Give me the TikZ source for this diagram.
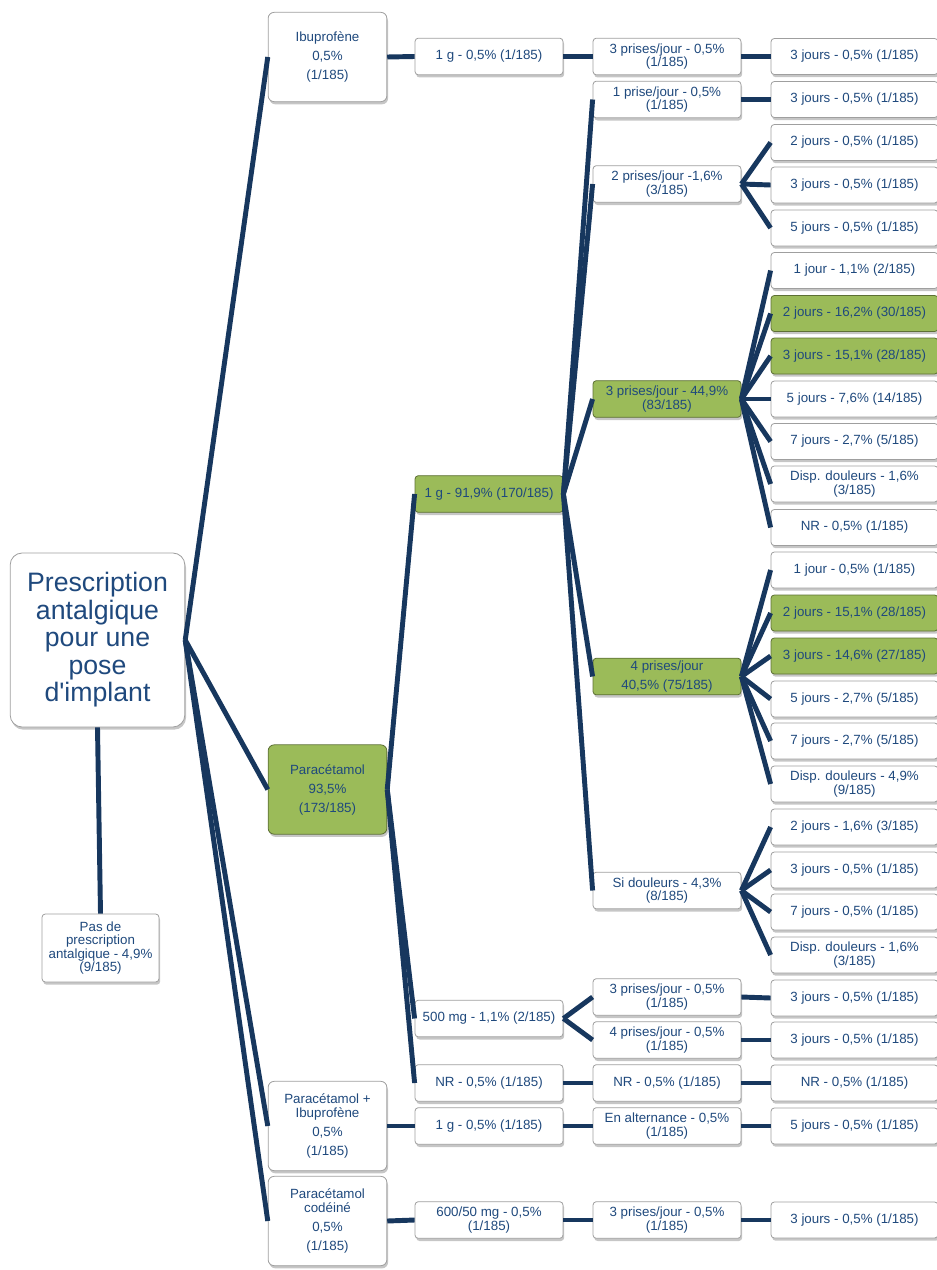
\documentclass[tikz,border=0pt]{standalone}
\usepackage{fontspec}
\setmainfont{Liberation Sans}[Ligatures=TeXOff]
\usetikzlibrary{shadows}
\definecolor{navy}{RGB}{23,55,94}
\definecolor{txtblue}{RGB}{31,73,125}
\definecolor{leafgreen}{RGB}{155,187,89}
\tikzset{
  box/.style={draw=gray!75,line width=0.6pt,fill=white,rounded corners=2.5pt,text=txtblue,align=center,inner sep=1pt,
    font=\fontsize{10}{10}\selectfont,
    drop shadow={shadow xshift=0.9pt,shadow yshift=-2pt,opacity=0.45}},
  cell/.style={box,minimum width=111pt,minimum height=27.5pt},
  tail/.style={box,minimum width=125.25pt,minimum height=27pt},
  drug/.style={box,rounded corners=4.5pt,minimum width=89pt,minimum height=67pt},
  hot/.style={fill=leafgreen,draw=leafgreen!60!black},
  link/.style={draw=navy,line width=3.7pt},
}
\begin{document}
\begin{tikzpicture}[x=0.75pt,y=0.75pt,yscale=-1,xscale=1]
\useasboundingbox (0,0) rectangle (937,1270);

% Text Node
\node[box,rounded corners=9pt,minimum width=131pt,minimum height=130.5pt,font=\fontsize{20}{20.6}\selectfont] (root) at (97.5,640) {Prescription\\antalgique\\pour une\\pose\\d'implant};
% Text Node
\node[box,minimum width=87.75pt,minimum height=51pt] (none) at (100.5,948) {Pas de\\prescription\\antalgique - 4,9\%\\(9/185)};

% Text Node
\node[drug] (ibu) at (327.5,57) {Ibuprofène\\[4.25pt]0,5\%\\[4.25pt](1/185)};
% Text Node
\node[drug,hot] (para) at (327.5,789.5) {Paracétamol\\[4.25pt]93,5\%\\[4.25pt](173/185)};
% Text Node
\node[drug] (parIbu) at (327.5,1126) {Paracétamol +\\Ibuprofène\\[4.25pt]0,5\%\\[4.25pt](1/185)};
% Text Node
\node[drug] (parCod) at (327.5,1221) {Paracétamol\\codéiné\\[4.25pt]0,5\%\\[4.25pt](1/185)};

% Text Node
\node[cell] (ibuDose) at (489,56.5) {1 g - 0,5\% (1/185)};
\node[cell,hot] (paraG) at (489,494) {1 g - 91,9\% (170/185)};
\node[cell] (paraMg) at (489,1018.5) {500 mg - 1,1\% (2/185)};
\node[cell] (paraNR) at (489,1083) {NR - 0,5\% (1/185)};
\node[cell] (piDose) at (489,1126) {1 g - 0,5\% (1/185)};
\node[cell] (pcDose) at (489,1220) {600/50 mg - 0,5\%\\(1/185)};

% Text Node
\node[cell] (ibuFreq) at (667,56.5) {3 prises/jour - 0,5\%\\(1/185)};
\node[cell] (gF1) at (667,99.5) {1 prise/jour - 0,5\%\\(1/185)};
\node[cell] (gF2) at (667,184) {2 prises/jour -1,6\%\\(3/185)};
\node[cell,hot] (gF3) at (667,399) {3 prises/jour - 44,9\%\\(83/185)};
\node[cell,hot] (gF4) at (667,676.5) {4 prises/jour\\[4.25pt]40,5\% (75/185)};
\node[cell] (gSi) at (667,890.5) {Si douleurs - 4,3\%\\(8/185)};
\node[cell] (mgF3) at (667,997) {3 prises/jour - 0,5\%\\(1/185)};
\node[cell] (mgF4) at (667,1040) {4 prises/jour - 0,5\%\\(1/185)};
\node[cell] (nrF) at (667,1083) {NR - 0,5\% (1/185)};
\node[cell] (piF) at (667,1126) {En alternance - 0,5\%\\(1/185)};
\node[cell] (pcF) at (667,1220) {3 prises/jour - 0,5\%\\(1/185)};

% Text Node
\node[tail] (d0) at (854.5,56.5) {3 jours - 0,5\% (1/185)};
\node[tail] (d1) at (854.5,99.5) {3 jours - 0,5\% (1/185)};
\node[tail] (d2) at (854.5,142.5) {2 jours - 0,5\% (1/185)};
\node[tail] (d3) at (854.5,185) {3 jours - 0,5\% (1/185)};
\node[tail] (d4) at (854.5,228) {5 jours - 0,5\% (1/185)};
\node[tail] (d5) at (854.5,270.5) {1 jour - 1,1\% (2/185)};
\node[tail,hot] (d6) at (854.5,313.5) {2 jours - 16,2\% (30/185)};
\node[tail,hot] (d7) at (854.5,356) {3 jours - 15,1\% (28/185)};
\node[tail] (d8) at (854.5,399) {5 jours - 7,6\% (14/185)};
\node[tail] (d9) at (854.5,441.5) {7 jours - 2,7\% (5/185)};
\node[tail] (d10) at (854.5,484) {Disp. douleurs - 1,6\%\\(3/185)};
\node[tail] (d11) at (854.5,527.5) {NR - 0,5\% (1/185)};
\node[tail] (d12) at (854.5,570) {1 jour - 0,5\% (1/185)};
\node[tail,hot] (d13) at (854.5,613) {2 jours - 15,1\% (28/185)};
\node[tail,hot] (d14) at (854.5,656) {3 jours - 14,6\% (27/185)};
\node[tail] (d15) at (854.5,699) {5 jours - 2,7\% (5/185)};
\node[tail] (d16) at (854.5,741) {7 jours - 2,7\% (5/185)};
\node[tail] (d17) at (854.5,784) {Disp. douleurs - 4,9\%\\(9/185)};
\node[tail] (d18) at (854.5,827) {2 jours - 1,6\% (3/185)};
\node[tail] (d19) at (854.5,870) {3 jours - 0,5\% (1/185)};
\node[tail] (d20) at (854.5,912) {7 jours - 0,5\% (1/185)};
\node[tail] (d21) at (854.5,955) {Disp. douleurs - 1,6\%\\(3/185)};
\node[tail] (d22) at (854.5,998) {3 jours - 0,5\% (1/185)};
\node[tail] (d23) at (854.5,1040) {3 jours - 0,5\% (1/185)};
\node[tail] (d24) at (854.5,1083) {NR - 0,5\% (1/185)};
\node[tail] (d25) at (854.5,1126) {5 jours - 0,5\% (1/185)};
\node[tail] (d26) at (854.5,1220) {3 jours - 0,5\% (1/185)};

%Straight Lines
\draw[link] (root.south) -- (none.north);
\draw[link] (root.east) -- (ibu.west);
\draw[link] (root.east) -- (para.west);
\draw[link] (root.east) -- (parIbu.west);
\draw[link] (root.east) -- (parCod.west);

%Straight Lines
\draw[link] (ibu.east) -- (ibuDose.west);
\draw[link] (ibuDose.east) -- (ibuFreq.west);
\draw[link] (ibuFreq.east) -- (d0.west);

%Straight Lines
\draw[link] (para.east) -- (paraG.west);
\draw[link] (para.east) -- (paraMg.west);
\draw[link] (para.east) -- (paraNR.west);
\draw[link] (paraG.east) -- (gF1.west);
\draw[link] (paraG.east) -- (gF2.west);
\draw[link] (paraG.east) -- (gF3.west);
\draw[link] (paraG.east) -- (gF4.west);
\draw[link] (paraG.east) -- (gSi.west);
\draw[link] (gF1.east) -- (d1.west);
\draw[link] (gF2.east) -- (d2.west);
\draw[link] (gF2.east) -- (d3.west);
\draw[link] (gF2.east) -- (d4.west);
\draw[link] (gF3.east) -- (d5.west);
\draw[link] (gF3.east) -- (d6.west);
\draw[link] (gF3.east) -- (d7.west);
\draw[link] (gF3.east) -- (d8.west);
\draw[link] (gF3.east) -- (d9.west);
\draw[link] (gF3.east) -- (d10.west);
\draw[link] (gF3.east) -- (d11.west);
\draw[link] (gF4.east) -- (d12.west);
\draw[link] (gF4.east) -- (d13.west);
\draw[link] (gF4.east) -- (d14.west);
\draw[link] (gF4.east) -- (d15.west);
\draw[link] (gF4.east) -- (d16.west);
\draw[link] (gF4.east) -- (d17.west);
\draw[link] (gSi.east) -- (d18.west);
\draw[link] (gSi.east) -- (d19.west);
\draw[link] (gSi.east) -- (d20.west);
\draw[link] (gSi.east) -- (d21.west);

%Straight Lines
\draw[link] (paraMg.east) -- (mgF3.west);
\draw[link] (paraMg.east) -- (mgF4.west);
\draw[link] (mgF3.east) -- (d22.west);
\draw[link] (mgF4.east) -- (d23.west);
\draw[link] (paraNR.east) -- (nrF.west);
\draw[link] (nrF.east) -- (d24.west);

%Straight Lines
\draw[link] (parIbu.east) -- (piDose.west);
\draw[link] (piDose.east) -- (piF.west);
\draw[link] (piF.east) -- (d25.west);
\draw[link] (parCod.east) -- (pcDose.west);
\draw[link] (pcDose.east) -- (pcF.west);
\draw[link] (pcF.east) -- (d26.west);

\end{tikzpicture}
\end{document}
